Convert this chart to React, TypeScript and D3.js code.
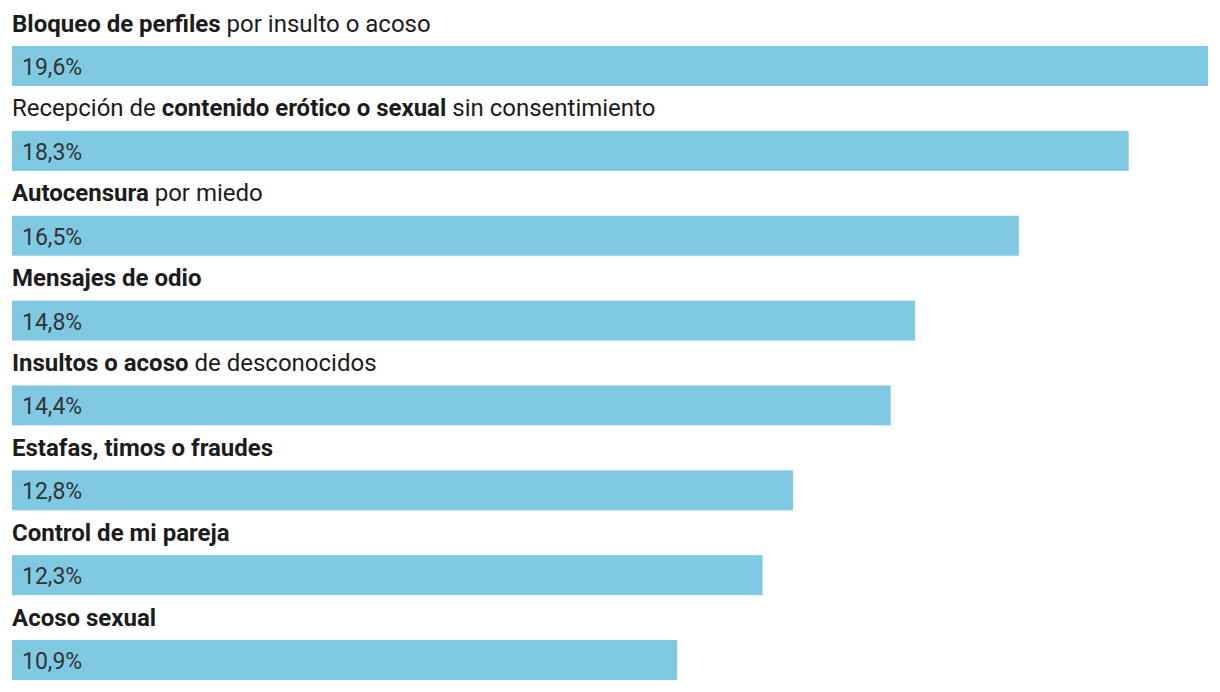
import React from "react";
import * as d3 from "d3";

const categories: { text: string; bold: boolean }[][] = [
  [{ text: "Bloqueo de perfiles", bold: true }, { text: " por insulto o acoso", bold: false }],
  [{ text: "Recepción de ", bold: false }, { text: "contenido erótico o sexual", bold: true }, { text: " sin consentimiento", bold: false }],
  [{ text: "Autocensura", bold: true }, { text: " por miedo", bold: false }],
  [{ text: "Mensajes de odio", bold: true }],
  [{ text: "Insultos o acoso", bold: true }, { text: " de desconocidos", bold: false }],
  [{ text: "Estafas, timos o fraudes", bold: true }],
  [{ text: "Control de mi pareja", bold: true }],
  [{ text: "Acoso sexual", bold: true }],
];
const values = [19.6, 18.3, 16.5, 14.8, 14.4, 12.8, 12.3, 10.9];

const W = 1220;
const H = 692;

export default function App() {
  const x = d3.scaleLinear().domain([0, 19.6]).range([12, 1208]);
  const y = d3
    .scaleBand<number>()
    .domain(d3.range(values.length))
    .range([0, 84.86 * values.length])
    .paddingInner(0)
    .paddingOuter(0);
  const fmt = (v: number) => v.toFixed(1).replace(".", ",") + "%";
  return (
    <div style={{ position: "absolute", left: 0, top: 0 }}>
      <svg width={W} height={H} style={{ display: "block", fontFamily: "Roboto, sans-serif" }}>
        <rect width={W} height={H} fill="#fff" />
        {values.map((v, i) => {
          const y0 = y(i)!;
          return (
            <g key={i}>
              <rect x={x(0)} y={y0 + 46} width={x(v) - x(0)} height={40} fill="#7fc9e3" />
              <text x={12} y={y0 + 31.5} fontSize={24} fill="#1c1c1c">
                {categories[i].map((s, j) => (
                  <tspan key={j} fontWeight={s.bold ? 700 : 400}>
                    {s.text}
                  </tspan>
                ))}
              </text>
              <text x={22} y={y0 + 75} fontSize={23} fill="#333">
                {fmt(v)}
              </text>
            </g>
          );
        })}
      </svg>
    </div>
  );
}
